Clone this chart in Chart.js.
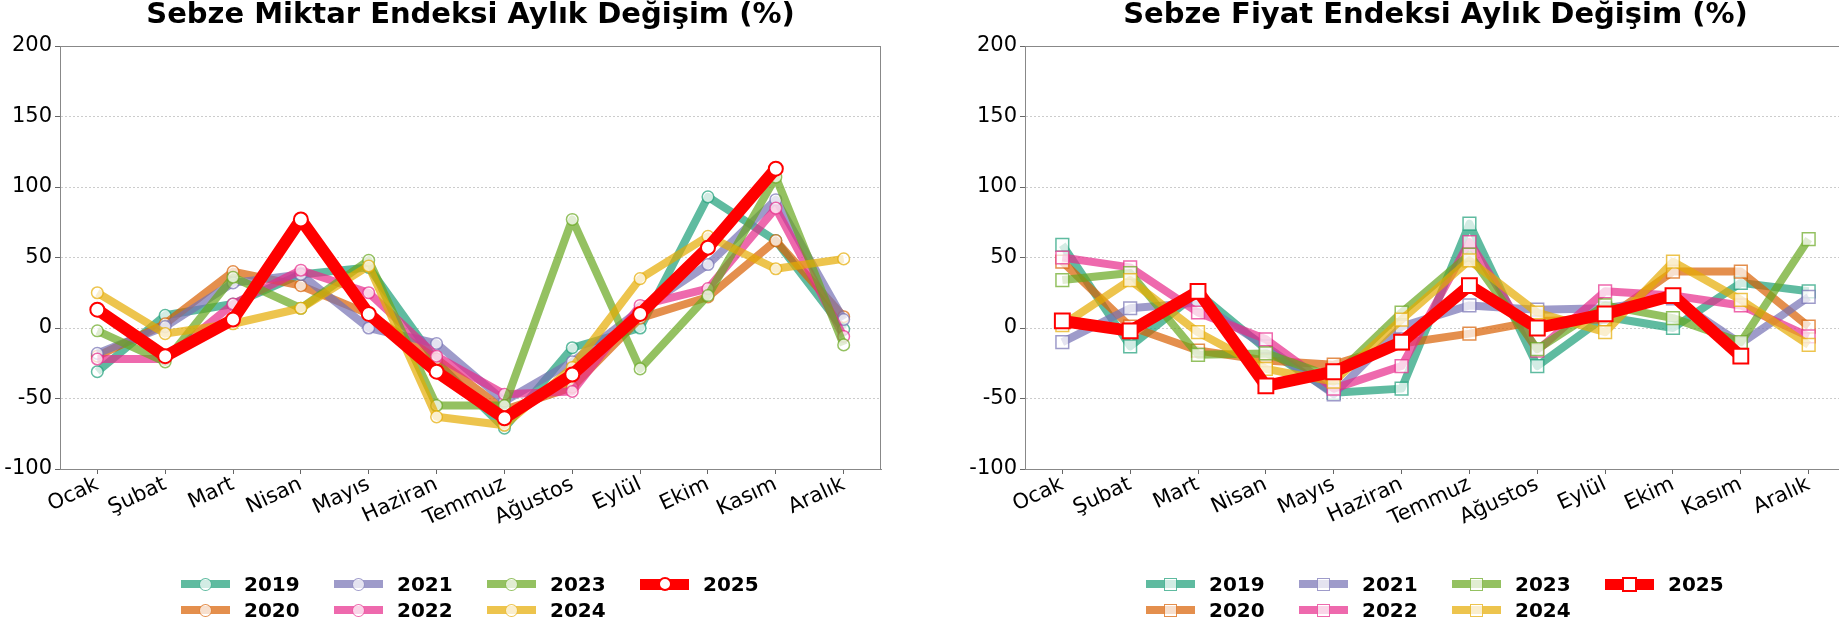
<!DOCTYPE html>
<html>
<head>
<meta charset="utf-8">
<script src="https://cdn.jsdelivr.net/npm/chart.js@4.4.1/dist/chart.umd.min.js"></script>
<style>
html,body{margin:0;padding:0;width:1839px;height:642px;overflow:hidden;background:#fff;font-family:"DejaVu Sans",sans-serif;}
.wrap{position:absolute;top:0;height:642px;width:920px;}
#w1{left:0;}
#w2{left:965px;}
canvas{display:block;}
.legend{position:absolute;top:0;left:0;}
.item{position:absolute;height:26px;}
.handle{position:absolute;left:0;width:49px;}
.mk{position:absolute;box-sizing:border-box;}
.lbl{position:absolute;left:63px;top:0;line-height:26px;font-weight:bold;font-size:20px;color:#000;white-space:nowrap;}
</style>
</head>
<body>
<div class="wrap" id="w1"><canvas id="c1" width="920" height="642"></canvas></div>
<div class="wrap" id="w2"><canvas id="c2" width="920" height="642"></canvas></div>
<div class="legend" id="lg1"></div>
<div class="legend" id="lg2"></div>
<script>
const months = ['Ocak','Şubat','Mart','Nisan','Mayıs','Haziran','Temmuz','Ağustos','Eylül','Ekim','Kasım','Aralık'];
const years = ['2019','2020','2021','2022','2023','2024','2025'];
const yTicks = [-100, -50, 0, 50, 100, 150, 200];

// Sebze Miktar Endeksi Aylık Değişim (%)
const m2019 = [-31, 9, 17, 38, 43, -24, -71, -14, 0, 93, 62, -1];
const m2020 = [-20, 3, 40, 30, 10, -22, -58, -42, 7, 22, 62, 8];
const m2021 = [-18, 1, 32, 38, 0, -11, -52, -24, 13, 45, 91, 6];
const m2022 = [-22, -22, 17, 41, 25, -20, -47, -45, 16, 28, 85, -6];
const m2023 = [-2, -24, 36, 14, 48, -55, -55, 77, -29, 23, 107, -12];
const m2024 = [25, -4, 3, 14, 44, -63, -69, -28, 35, 65, 42, 49];
const m2025 = [13, -20, 6, 77, 10, -31, -64, -33, 10, 57, 113, null];

// Sebze Fiyat Endeksi Aylık Değişim (%)
const f2019 = [59, -13, 25, -15, -46, -43, 74, -27, 8, 0, 32, 26];
const f2020 = [47, 1, -16, -23, -26, -11, -4, 5, 6, 40, 40, 1];
const f2021 = [-10, 14, 18, -13, -47, 1, 16, 13, 14, 21, -11, 22];
const f2022 = [50, 43, 11, -8, -43, -27, 61, -16, 26, 23, 16, -6];
const f2023 = [34, 39, -19, -18, -35, 11, 52, -15, 16, 7, -10, 63];
const f2024 = [2, 34, -3, -29, -38, 6, 48, 11, -3, 47, 20, -12];
const f2025 = [5, -2, 26, -41, -31, -10, 30, 0, 10, 23, -20, null];

const titles = ['Sebze Miktar Endeksi Aylık Değişim (%)', 'Sebze Fiyat Endeksi Aylık Değişim (%)'];
const colors = ['rgba(27,158,119,0.7)','rgba(217,95,2,0.7)','rgba(117,112,179,0.7)','rgba(231,41,138,0.7)','rgba(102,166,30,0.7)','rgba(230,171,2,0.7)','#ff0000'];

Chart.defaults.font.family = '"DejaVu Sans", sans-serif';
Chart.defaults.color = '#000';

const frame = {
  id: 'frame',
  afterDatasetsDraw(chart) {
    const a = chart.chartArea, c = chart.ctx;
    c.save();
    c.strokeStyle = '#888';
    c.lineWidth = 1;
    c.strokeRect(a.left + 0.5, a.top + 0.5, a.right - a.left - 1, a.bottom - a.top);
    c.restore();
  }
};

function makeDatasets(series, style) {
  return series.map((vals, i) => {
    const last = i === series.length - 1;
    const r = style === 'rect' ? (last ? 10.5 : 9) : (last ? 7 : 5.8);
    return {
      label: years[i],
      data: vals.map((v, k) => ({x: k, y: v})),
      borderColor: colors[i],
      backgroundColor: colors[i],
      borderWidth: last ? 12 : 8,
      borderJoinStyle: 'round',
      pointStyle: style,
      pointRadius: r,
      pointHoverRadius: r,
      pointBackgroundColor: last ? '#ffffff' : 'rgba(255,255,255,0.72)',
      pointBorderColor: colors[i],
      pointBorderWidth: last ? 2 : 1.5,
      tension: 0,
      spanGaps: false,
      order: series.length - i
    };
  });
}

function makeChart(id, title, series, style) {
  return new Chart(document.getElementById(id), {
    type: 'line',
    data: { datasets: makeDatasets(series, style) },
    options: {
      responsive: false,
      animation: false,
      layout: { padding: { left: 0, right: 39, top: 0, bottom: 0 } },
      plugins: {
        legend: { display: false },
        tooltip: { enabled: false },
        title: {
          display: true, text: title, fullSize: false,
          font: { size: 29, weight: 'bold', lineHeight: 1 },
          color: '#000',
          padding: { top: 1, bottom: 16 }
        }
      },
      scales: {
        x: {
          type: 'linear', min: -0.55, max: 11.55,
          afterBuildTicks: s => { s.ticks = months.map((m, i) => ({ value: i })); },
          ticks: {
            callback: v => months[v],
            autoSkip: false, maxRotation: 25, minRotation: 25,
            font: { size: 21 }, color: '#000', padding: -2
          },
          grid: { drawOnChartArea: false, drawTicks: true, tickLength: 5, tickColor: '#666', color: '#666' },
          border: { display: true, color: '#888' },
          afterFit: s => { s.height = 173; s.paddingLeft = 0; s.paddingRight = 0; }
        },
        y: {
          min: -100, max: 200,
          afterBuildTicks: s => { s.ticks = yTicks.map(v => ({ value: v })); },
          ticks: { font: { size: 21 }, color: '#000', padding: 3 },
          grid: { color: 'rgba(0,0,0,0.2)', tickColor: '#666', tickLength: 5, tickBorderDash: [] },
          border: { display: true, color: '#888', dash: [2, 2] },
          afterFit: s => { s.width = 60; s.paddingTop = 0; s.paddingBottom = 0; }
        }
      }
    },
    plugins: [frame]
  });
}

makeChart('c1', titles[0], [m2019, m2020, m2021, m2022, m2023, m2024, m2025], 'circle');
makeChart('c2', titles[1], [f2019, f2020, f2021, f2022, f2023, f2024, f2025], 'rect');

function makeLegend(id, left, style) {
  const lg = document.getElementById(id);
  lg.style.left = left + 'px';
  lg.style.top = '571px';
  years.forEach((y, i) => {
    const col = Math.floor(i / 2), row = i % 2;
    const last = i === years.length - 1;
    const it = document.createElement('div');
    it.className = 'item';
    it.style.left = (col * 153) + 'px';
    it.style.top = (row * 26) + 'px';
    const h = document.createElement('div');
    h.className = 'handle';
    const hh = last ? 11 : 8;
    h.style.height = hh + 'px';
    h.style.top = (13 - hh / 2) + 'px';
    h.style.background = colors[i];
    it.appendChild(h);
    const mk = document.createElement('div');
    mk.className = 'mk';
    const sz = style === 'rect' ? (last ? 15 : 13) : (last ? 14 : 13);
    mk.style.width = sz + 'px';
    mk.style.height = sz + 'px';
    mk.style.left = (24.5 - sz / 2) + 'px';
    mk.style.top = (13 - sz / 2) + 'px';
    mk.style.border = (last ? 2 : 1.5) + 'px solid ' + colors[i];
    mk.style.background = last ? '#fff' : 'rgba(255,255,255,0.72)';
    mk.style.borderRadius = style === 'rect' ? '0' : '50%';
    it.appendChild(mk);
    const t = document.createElement('div');
    t.className = 'lbl';
    t.textContent = y;
    it.appendChild(t);
    lg.appendChild(it);
  });
}
makeLegend('lg1', 181, 'circle');
makeLegend('lg2', 1146, 'rect');
</script>
</body>
</html>
